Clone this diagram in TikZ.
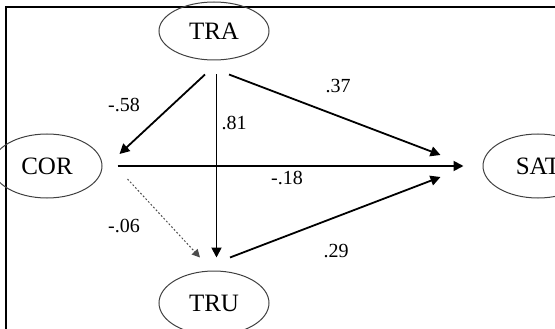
\documentclass[tikz,border=0pt]{standalone}
\usepackage{fontspec}
\setmainfont{Liberation Serif}
\usetikzlibrary{shapes.geometric,arrows.meta}
\tikzset{
  var/.style={ellipse,draw=black!75,line width=1pt,minimum width=110pt,minimum height=64pt,inner sep=0pt,font=\fontsize{25}{25}\selectfont},
  eff/.style={line width=1.8pt,-{Triangle[length=10pt,width=10pt]}},
  coef/.style={font=\fontsize{20}{20}\selectfont,inner sep=0pt}
}
\begin{document}
\begin{tikzpicture}[x=1pt,y=-1pt]
\useasboundingbox (0,0) rectangle (555,329);
\clip (0,0) rectangle (555,329);
\draw[line width=1.3pt] (6,329)--(6,7)--(555,7);
% latent variables
\node[var,minimum height=58pt] (TRA) at (214,31) {TRA};
\node[var] (COR) at (47,166) {COR};
\node[var] (TRU) at (214,303) {TRU};
\node[var] (SAT) at (538,166) {SAT};
% paths
\draw[eff] ([shift={(-9pt,-14pt)}]TRA.south)--([shift={(17pt,12pt)}]COR.east);
\draw[eff] ([shift={(2.5pt,-14pt)}]TRA.south)--([shift={(2.5pt,13pt)}]TRU.north);
\draw[eff] ([shift={(15pt,-14pt)}]TRA.south)--([shift={(-42pt,11pt)}]SAT.west);
\draw[eff] ([shift={(15pt,0pt)}]COR.east)--([shift={(-19pt,0pt)}]SAT.west);
\draw[eff,-{Triangle[length=8pt,width=8pt]},dotted,line width=1pt,draw=black!70] ([shift={(25pt,-13pt)}]COR.east)--([shift={(-14pt,13pt)}]TRU.north);
\draw[eff] ([shift={(16pt,13pt)}]TRU.north)--([shift={(-42pt,-11pt)}]SAT.west);
% coefficients
\node[coef] (b58) at (124,105) {-.58};
\node[coef] (b81) at (234,123) {.81};
\node[coef] (b37) at (338,86) {.37};
\node[coef] (b18) at (287,178) {-.18};
\node[coef] (b06) at (124,226) {-.06};
\node[coef] (b29) at (336,251) {.29};
\end{tikzpicture}
\end{document}
